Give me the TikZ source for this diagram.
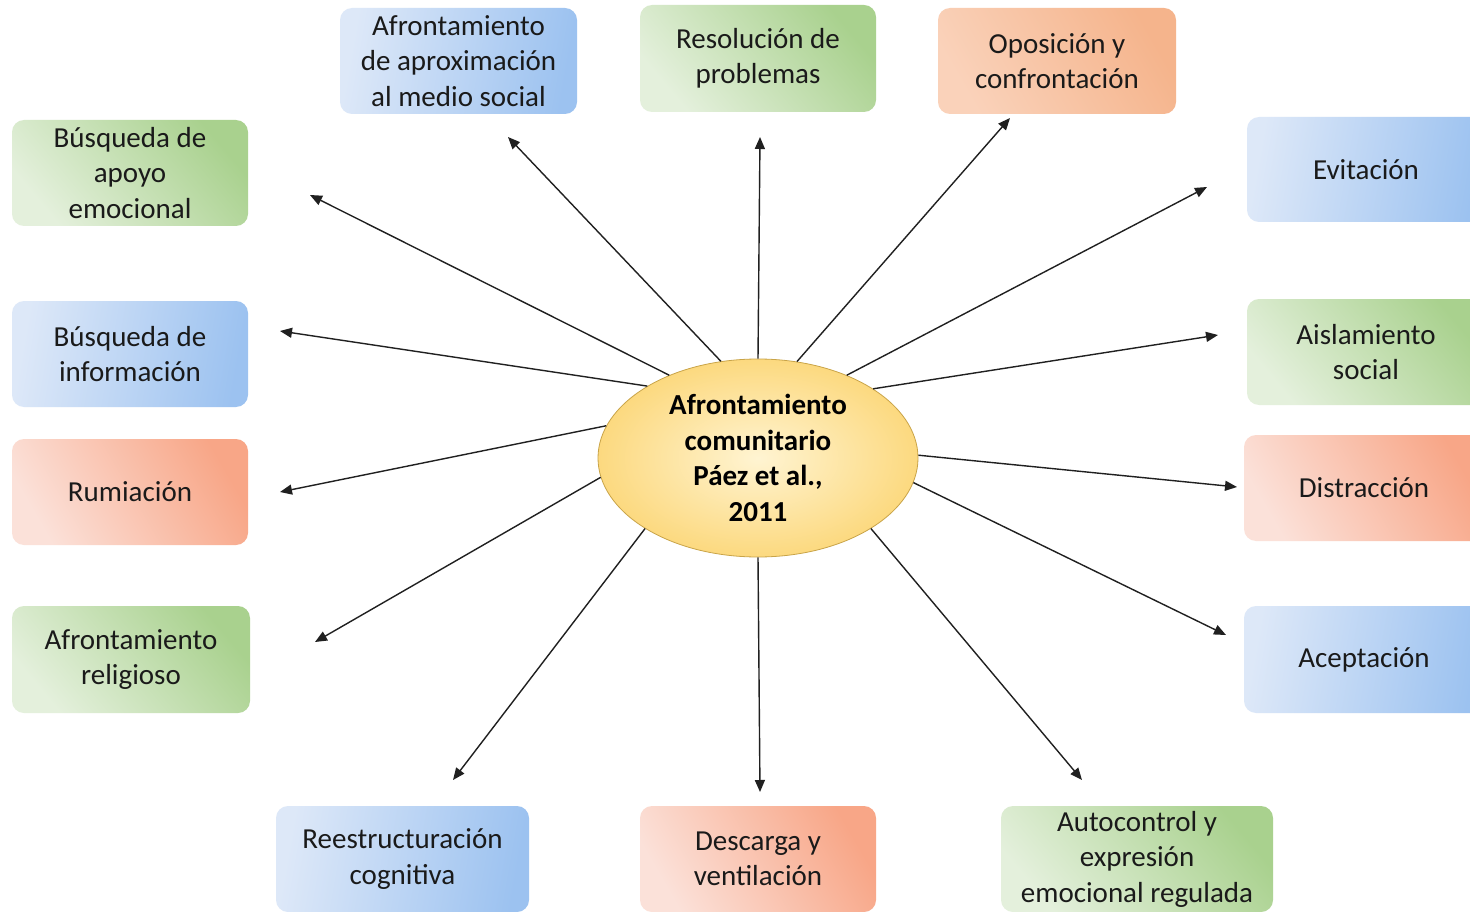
\documentclass[tikz,border=0pt]{standalone}
\usepackage{fontspec}
\setmainfont{Carlito}
\usetikzlibrary{arrows.meta,shapes.geometric}

\definecolor{txt}{HTML}{1A1A1A}
\definecolor{bluelt}{HTML}{DDE8F8}
\definecolor{bluedk}{HTML}{9CC2F0}
\definecolor{greenlt}{HTML}{E4F0DC}
\definecolor{greendk}{HTML}{A9D18E}
\definecolor{redlt}{HTML}{FBE1D9}
\definecolor{reddk}{HTML}{F8A687}
\definecolor{orangelt}{HTML}{FAD2BA}
\definecolor{orangedk}{HTML}{F5B48C}
\definecolor{ellin}{HTML}{FFF4D2}
\definecolor{ellout}{HTML}{FCD97F}
\definecolor{ellline}{HTML}{C9A448}
\definecolor{arrowc}{HTML}{202020}

\tikzset{
  box/.style={rectangle, rounded corners=12pt, minimum width=236pt, minimum height=106pt,
    inner sep=0pt, align=center, text=txt, font=\fontsize{29}{35.5}\selectfont},
  bluebox/.style={box, shading=axis, left color=bluelt, right color=bluedk, shading angle=80},
  greenbox/.style={box, shading=axis, top color=greendk, bottom color=greenlt, shading angle=-50},
  redbox/.style={box, shading=axis, top color=reddk, bottom color=redlt, shading angle=-60},
  orangebox/.style={box, shading=axis, top color=orangedk, bottom color=orangelt, shading angle=-60},
  hub/.style={ellipse, minimum width=320pt, minimum height=198pt, inner sep=0pt,
    draw=ellline, line width=0.8pt, inner color=ellin, outer color=ellout,
    align=center, text=black, font=\fontsize{29}{35.5}\selectfont\bfseries},
  link/.style={draw=arrowc, line width=1.4pt, -{Triangle[length=12pt,width=10pt]}}
}

\begin{document}
\begin{tikzpicture}[x=1pt,y=-1pt]
\useasboundingbox[fill=white] (0,0) rectangle (1470,912);

% central ellipse
\node[hub] (c) at (758,458) {Afrontamiento\\comunitario\\Páez et al.,\\2011};

% surrounding strategies
\node[bluebox, minimum width=237pt] (b1) at (458.5,61) {Afrontamiento\\de aproximación\\al medio social};
\node[greenbox, minimum height=107pt] (b2) at (758,58.5) {Resolución de\\problemas};
\node[orangebox, minimum width=238pt] (b3) at (1057,61) {Oposición y\\confrontación};
\node[greenbox] (b4) at (130,173) {Búsqueda de\\apoyo\\emocional};
\node[bluebox, minimum width=238pt, minimum height=105pt] (b5) at (1366,169.5) {Evitación};
\node[bluebox] (b6) at (130,354) {Búsqueda de\\información};
\node[greenbox, minimum width=238pt] (b7) at (1366,352) {Aislamiento\\social};
\node[redbox] (b8) at (130,492) {Rumiación};
\node[redbox, minimum width=240pt] (b9) at (1364,488) {Distracción};
\node[greenbox, minimum width=238pt, minimum height=107pt] (b10) at (131,659.5) {Afrontamiento\\religioso};
\node[bluebox, minimum width=240pt, minimum height=107pt] (b11) at (1364,659.5) {Aceptación};
\node[bluebox, minimum width=253pt] (b12) at (402.5,859) {Reestructuración\\cognitiva};
\node[redbox] (b13) at (758,859) {Descarga y\\ventilación};
\node[greenbox, minimum width=272pt] (b14) at (1137,859) {Autocontrol y\\expresión\\emocional regulada};

% arrow tips, just short of the boxes
\coordinate (t1) at (508,137);
\coordinate (t2) at (760,137);
\coordinate (t3) at (1010,118);
\coordinate (t4) at (310,195);
\coordinate (t5) at (1207,187);
\coordinate (t6) at (280,331);
\coordinate (t7) at (1218,335);
\coordinate (t8) at (280,492);
\coordinate (t9) at (1237,487);
\coordinate (t10) at (315,642);
\coordinate (t11) at (1226,635);
\coordinate (t12) at (453,780);
\coordinate (t13) at (760,792);
\coordinate (t14) at (1082,780);

\draw[link] (c.111.8) -- (t1);
\draw[link] (c.90) -- (t2);
\draw[link] (c.68.2) -- (t3);
\draw[link] (c.137.3) -- (t4);
\draw[link] (c.43.1) -- (t5);
\draw[link] (c.147.9) -- (t6);
\draw[link] (c.31.3) -- (t7);
\draw[link] (c.168.5) -- (t8);
\draw[link] (c.1.8) -- (t9);
\draw[link] (c.187.8) -- (t10);
\draw[link] (c.-9.2) -- (t11);
\draw[link] (c.212.5) -- (t12);
\draw[link] (c.270) -- (t13);
\draw[link] (c.-32) -- (t14);
\end{tikzpicture}
\end{document}
